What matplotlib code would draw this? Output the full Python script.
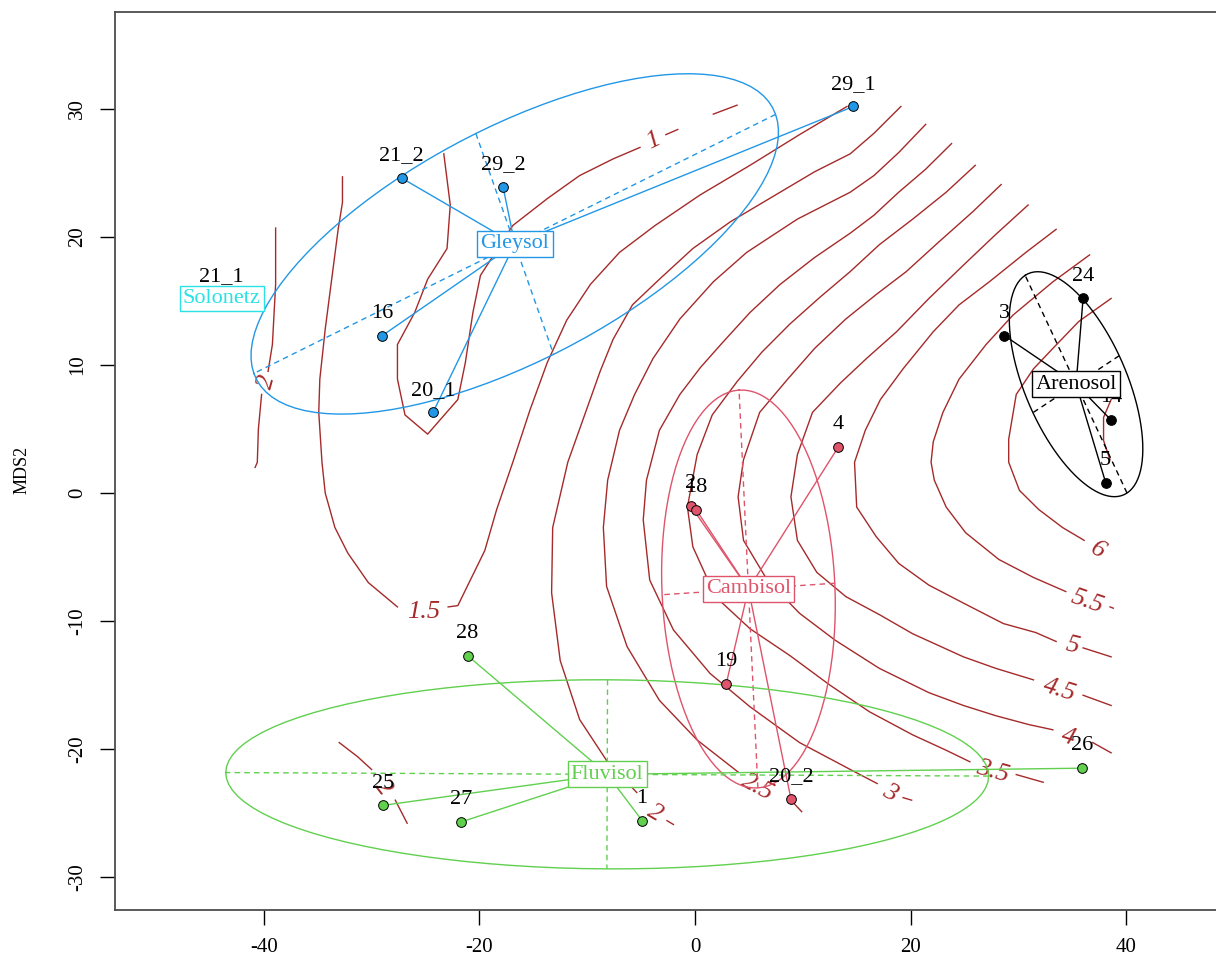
import numpy as np
import matplotlib
matplotlib.use("Agg")
import matplotlib.pyplot as plt

plt.rcParams['font.family'] = ['Liberation Serif', 'DejaVu Serif']
plt.rcParams['axes.unicode_minus'] = False

nan = np.nan

# NMDS site scores
site_names = ["1", "2", "3", "4", "5", "14", "16", "18", "19", "20_1",
              "20_2", "21_1", "21_2", "24", "25", "26", "27", "28", "29_1", "29_2"]
site_x = [-4.9, -0.4, 28.7, 13.3, 38.1, 38.6, -29.0, 0.1, 2.9, -24.3,
          8.9, -43.9, -27.2, 36.0, -28.9, 35.9, -21.7, -21.1, 14.7, -17.8]
site_y = [-25.6, -1.0, 12.3, 3.6, 0.8, 5.7, 12.3, -1.3, -14.9, 6.3,
          -23.9, 15.2, 24.6, 15.2, -24.4, -21.5, -25.7, -12.7, 30.2, 23.9]
site_soil = ["Fluvisol", "Cambisol", "Arenosol", "Cambisol", "Arenosol", "Arenosol",
             "Gleysol", "Cambisol", "Cambisol", "Gleysol", "Cambisol", "Solonetz",
             "Gleysol", "Arenosol", "Fluvisol", "Fluvisol", "Fluvisol", "Fluvisol",
             "Gleysol", "Gleysol"]

soils = ["Arenosol", "Cambisol", "Fluvisol", "Gleysol", "Solonetz"]
soil_cols = ["#000000", "#DF536B", "#61D04F", "#2297E6", "#28E2E5"]

# ordisurf contour lines (traced), nan = gap where R put the label
c1_x = [-23.3, -22.7, -23.0, -24.8, -26.0, -27.6, -27.6, -26.9, -24.8, -22.0, -21.3, -20.6,
        -19.9, -16.9, -13.7, -10.7, -7.6, -5.1, nan, -2.7, -1.6, nan, 1.7, 3.9]
c1_y = [26.5, 22.5, 19.1, 16.7, 14.1, 11.6, 8.9, 6.1, 4.6, 7.3, 10.2, 14.1,
        17.0, 20.9, 23.0, 24.8, 26.1, 27.0, nan, 28.0, 28.4, nan, 29.6, 30.3]
c15_x = [-32.7, -32.7, -33.1, -33.7, -34.3, -34.8, -34.9, -34.6, -34.3, -33.4, -32.2, -30.3,
         -27.6, nan, -22.9, -22.0, -19.5, -18.4, -16.9, -15.3, -13.7, -11.9, -9.7, -7.0,
         -3.7, 0.5, 5.1, 9.7, 14.1]
c15_y = [24.7, 22.7, 20.6, 16.7, 12.8, 8.9, 6.3, 2.4, 0.0, -2.7, -4.7, -7.0,
         -8.9, nan, -8.9, -8.8, -4.5, -1.3, 2.4, 6.5, 10.2, 13.5, 16.3, 18.8,
         20.9, 23.3, 25.6, 28.0, 30.2]
c2_x = [19.1, 16.6, 14.4, 11.1, 7.9, 3.3, -0.2, -3.3, -5.8, -7.6, -8.8, -10.7, -11.8,
        -13.2, -13.3, -12.5, -10.7, -8.2, -5.4, nan, -2.6, -2.0]
c2_y = [30.2, 28.1, 26.5, 25.1, 23.5, 21.2, 19.1, 16.7, 14.7, 12.0, 9.5, 5.0, 2.4,
        -2.7, -7.8, -13.1, -17.7, -20.9, -23.4, nan, -25.6, -25.9]
c2b_x = [-38.9, -38.9, -39.2, -39.6, nan, -40.2, -40.5, -40.6, -40.8]
c2b_y = [20.7, 16.3, 11.6, 9.5, nan, 7.7, 5.0, 2.4, 2.0]
c2c_x = [-33.0, -31.3, -30.0, nan, -27.8, -26.7]
c2c_y = [-19.5, -20.6, -21.6, nan, -24.0, -25.8]
c25_x = [21.4, 18.9, 16.6, 14.4, 9.5, 4.8, 1.7, -1.4, -3.9, -5.6, -7.0, -8.1, -8.5,
         -8.2, -6.3, -3.3, 0.2, 4.0, nan, 8.9, 9.9]
c25_y = [28.8, 26.6, 24.8, 23.5, 21.4, 18.8, 16.5, 13.6, 10.5, 7.7, 4.9, 1.0, -2.7,
         -7.3, -12.0, -16.2, -19.3, -21.8, nan, -24.0, -24.9]
c3_x = [23.8, 21.4, 18.9, 16.6, 14.4, 11.1, 7.9, 5.1, 2.5, 0.5, -1.4, -3.3, -4.5, -4.8,
        -4.2, -2.0, 1.4, 5.1, 9.7, 14.4, 16.9, nan, 19.3, 20.1]
c3_y = [27.3, 25.3, 23.5, 21.7, 20.3, 18.4, 16.3, 14.1, 11.7, 9.8, 7.7, 4.9, 1.0, -2.1,
        -6.8, -10.7, -14.1, -16.7, -19.5, -21.6, -22.7, nan, -23.8, -24.0]
c35_x = [26.0, 23.3, 20.2, 17.1, 14.4, 11.6, 8.8, 6.2, 3.9, 1.6, 0.2, -0.7, -0.2, 1.9,
         5.1, 8.8, 12.5, 16.2, 20.2, 23.3, 25.5, nan, 29.8, 32.3]
c35_y = [25.6, 23.5, 21.4, 19.4, 17.3, 15.3, 13.2, 11.0, 8.7, 6.1, 3.0, -1.1, -4.2, -8.1,
         -10.6, -12.7, -15.0, -17.1, -18.9, -20.1, -21.0, nan, -22.0, -22.6]
c4_x = [28.4, 25.8, 22.6, 19.6, 16.8, 14.0, 11.1, 8.5, 6.0, 4.5, 4.0, 4.5, 6.7, 9.7,
        13.0, 17.1, 21.7, 24.9, 27.9, 31.0, 33.2, nan, 36.9, 38.6]
c4_y = [24.1, 22.0, 19.6, 17.3, 15.5, 13.6, 11.3, 8.8, 6.3, 2.6, -0.3, -3.7, -6.8, -9.4,
        -11.5, -13.7, -15.6, -16.6, -17.4, -18.1, -18.5, nan, -19.5, -20.3]
c45_x = [30.9, 27.9, 24.9, 21.7, 18.7, 15.9, 13.5, 10.9, 9.5, 8.9, 9.5, 11.3, 14.0, 17.1,
         20.2, 24.9, 27.9, 31.4, nan, 36.0, 38.6]
c45_y = [22.5, 20.2, 17.8, 15.2, 12.6, 10.5, 8.6, 6.3, 3.0, -0.3, -3.7, -6.2, -8.1, -9.5,
         -11.0, -12.8, -13.7, -14.6, nan, -15.8, -16.6]
c5_x = [33.5, 30.7, 27.3, 24.5, 22.1, 19.3, 17.2, 15.8, 14.8, 15.0, 16.8, 18.9, 21.7,
        24.9, 28.6, 31.6, 33.5, nan, 36.0, 38.6]
c5_y = [20.6, 18.8, 16.5, 14.7, 12.6, 9.7, 7.3, 4.9, 2.4, -1.1, -3.4, -5.5, -7.2,
        -8.6, -10.2, -10.9, -11.6, nan, -12.1, -12.8]
c55_x = [36.6, 33.2, 29.5, 27.0, 24.5, 23.0, 22.1, 21.9, 22.2, 23.3, 25.1, 28.2, 31.4,
         34.4, nan, 38.5, 38.8]
c55_y = [18.6, 16.5, 13.9, 11.6, 8.9, 6.3, 4.0, 2.4, 1.0, -1.1, -3.1, -5.2, -6.6,
         -7.7, nan, -8.9, -9.0]
c6_x = [38.6, 35.6, 33.2, 31.4, 29.8, 29.1, 29.1, 30.1, 31.9, 34.1, 36.1]
c6_y = [15.2, 13.4, 11.3, 9.7, 7.7, 4.2, 2.4, 0.2, -1.3, -2.7, -3.7]
c65_x = [38.6, 37.9, 37.9, 38.5]
c65_y = [7.3, 5.9, 4.1, 2.6]

contours = [(c1_x, c1_y), (c15_x, c15_y), (c2_x, c2_y), (c2b_x, c2b_y), (c2c_x, c2c_y),
            (c25_x, c25_y), (c3_x, c3_y), (c35_x, c35_y), (c4_x, c4_y), (c45_x, c45_y),
            (c5_x, c5_y), (c55_x, c55_y), (c6_x, c6_y), (c65_x, c65_y)]

lab_text = ["1", "1.5", "2", "2", "2", "2.5", "3", "3.5", "4", "4.5", "5", "5.5", "6"]
lab_x = [-3.9, -25.2, -39.7, -29.0, -3.7, 5.8, 18.1, 27.6, 34.6, 33.8, 35.0, 36.4, 37.4]
lab_y = [27.5, -9.3, 8.7, -23.0, -25.0, -23.0, -23.4, -21.8, -19.1, -15.4, -11.9, -8.5, -4.5]

surf_col = "#A52A2A"

fig = plt.figure(figsize=(12.16, 9.65), dpi=100)
ax = fig.add_axes([115 / 1216, 55 / 965, 1 - 115 / 1216, 898 / 965])
ax.set_xlim(-53.8, 48.33)
ax.set_ylim(-32.58, 37.58)

# surface contours
for cx, cy in contours:
    ax.plot(cx, cy, color=surf_col, lw=1.0, zorder=2)


def label_angle(lx, ly):
    lp = ax.transData.transform((lx, ly))
    best = None
    for cx, cy in contours:
        pts = ax.transData.transform(np.column_stack([cx, cy]))
        d = np.hypot(pts[:, 0] - lp[0], pts[:, 1] - lp[1])
        d[np.isnan(d)] = np.inf
        if best is None or d.min() < best[0]:
            best = (d.min(), pts, d)
    _, pts, d = best
    i, j = sorted(np.argsort(d)[:2])
    dx, dy = pts[j] - pts[i]
    ang = np.degrees(np.arctan2(dy, dx))
    if ang > 90:
        ang -= 180
    if ang <= -90:
        ang += 180
    return ang


for t, lx, ly in zip(lab_text, lab_x, lab_y):
    ax.text(lx, ly, t, color=surf_col, fontsize=19, style='italic',
            rotation=label_angle(lx, ly), rotation_mode='anchor',
            ha='center', va='center', zorder=2)

sx = np.array(site_x)
sy = np.array(site_y)
soil_arr = np.array(site_soil)

# ordiellipse (sd, conf 0.6) with its axes, and ordispider
scale = np.sqrt(-2 * np.log(1 - 0.6))
t = np.linspace(0, 2 * np.pi, 101)
dash = (0, (4, 3))
for soil, col in zip(soils, soil_cols):
    m = soil_arr == soil
    gx, gy = sx[m], sy[m]
    cxm, cym = gx.mean(), gy.mean()
    for px, py in zip(gx, gy):
        ax.plot([cxm, px], [cym, py], color=col, lw=1.0, zorder=3)
    if m.sum() >= 3:
        cov = np.cov(np.vstack([gx, gy]))
        vals, vecs = np.linalg.eigh(cov)
        ax_len = scale * np.sqrt(vals)
        ex = cxm + ax_len[1] * np.cos(t) * vecs[0, 1] + ax_len[0] * np.sin(t) * vecs[0, 0]
        ey = cym + ax_len[1] * np.cos(t) * vecs[1, 1] + ax_len[0] * np.sin(t) * vecs[1, 0]
        ax.plot(ex, ey, color=col, lw=1.0, zorder=3)
        for k in range(2):
            vx, vy = vecs[0, k] * ax_len[k], vecs[1, k] * ax_len[k]
            ax.plot([cxm - vx, cxm + vx], [cym - vy, cym + vy], color=col,
                    lw=1.0, linestyle=dash, zorder=3)

# sites
for name, px, py, soil in zip(site_names, site_x, site_y, site_soil):
    col = soil_cols[soils.index(soil)]
    ax.plot(px, py, 'o', ms=7, mfc=col, mec='black', mew=0.7, zorder=4)
    ax.annotate(name, (px, py), xytext=(0, 16), textcoords='offset points',
                ha='center', va='center', fontsize=16, zorder=4)

# group labels
for soil, col in zip(soils, soil_cols):
    m = soil_arr == soil
    ax.text(sx[m].mean(), sy[m].mean(), soil, color=col, fontsize=16,
            ha='center', va='center', zorder=6,
            bbox=dict(boxstyle='square,pad=0.15', fc='white', ec=col, lw=1.0))

ax.spines['right'].set_visible(False)
for s in ['left', 'bottom', 'top']:
    ax.spines[s].set_color('0.3')
    ax.spines[s].set_linewidth(1.3)

ax.set_xticks([-40, -20, 0, 20, 40])
ax.set_yticks([-30, -20, -10, 0, 10, 20, 30])
ax.tick_params(direction='out', length=11, width=1, labelsize=15)
ax.tick_params(axis='x', pad=9)
ax.tick_params(axis='y', pad=9, labelrotation=90)
for lab in ax.get_yticklabels():
    lab.set_va('center')

fig.text(22 / 1216, 0.513, "MDS2", rotation=90, ha='center', va='center', fontsize=13)

fig.savefig("out.png", dpi=100)
